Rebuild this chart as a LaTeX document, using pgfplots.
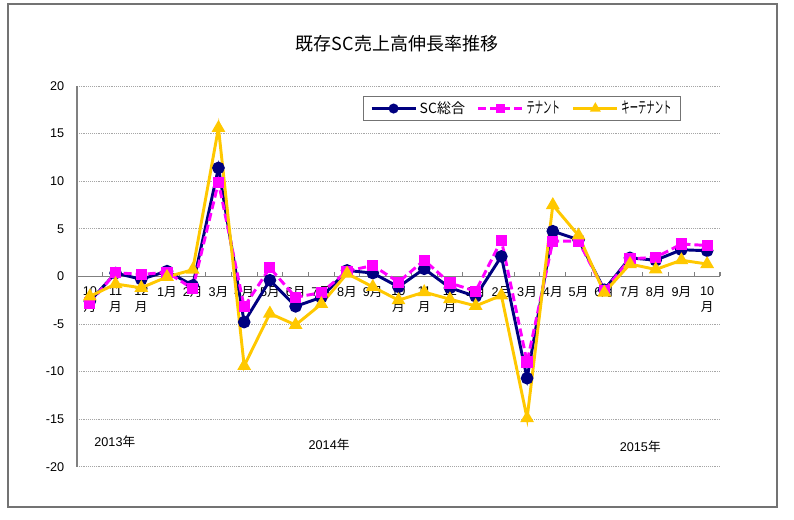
\documentclass[border=0pt]{standalone}
\usepackage{fontspec}
\setmainfont{Liberation Sans}
\newfontfamily\jp{Noto Sans CJK JP}
\newfontfamily\jpnarrow[FakeStretch=0.52]{Noto Sans CJK JP}
\usepackage{pgfplots}
\usepackage{pgfplotstable}
\pgfplotsset{compat=1.18}

\definecolor{scnavy}{HTML}{000080}
\definecolor{tenmag}{HTML}{FF00FF}
\definecolor{keygold}{HTML}{FFC800}
\definecolor{axgray}{HTML}{808080}

\newcommand{\tk}{{\jp 月}}
\newcommand{\nen}{{\jp 年}}
\newcommand{\kana}[1]{{\jpnarrow\fontsize{12}{12.5}\selectfont #1}}

% month index, SC total, tenants, key tenants (Oct 2013 - Oct 2015)
\pgfplotstableread{
i   sc     ten    key
0   -2.6   -2.8   -2.1
1   0.35   0.4    -0.8
2   -0.3   0.2    -1.2
3   0.55   0.45   -0.05
4   -0.95  -1.3   0.7
5   11.4   9.9    15.6
6   -4.8   -3.2   -9.4
7   -0.4   0.9    -3.9
8   -3.15  -2.2   -5.1
9   -2.2   -1.7   -2.9
10  0.63   0.55   0.3
11  0.35   1.15   -1.1
12  -1.1   -0.6   -2.5
13  0.8    1.7    -1.65
14  -1.2   -0.7   -2.4
15  -2.1   -1.55  -3.1
16  2.1    3.8    -2.0
17  -10.7  -9.0   -14.9
18  4.75   3.7    7.5
19  3.85   3.7    4.3
20  -1.4   -1.5   -1.7
21  1.95   1.85   1.3
22  1.7    2.0    0.73
23  2.8    3.4    1.7
24  2.7    3.25   1.3
}\growth

\begin{document}
\begin{tikzpicture}[x=0.75pt,y=0.75pt]
  \path[use as bounding box] (0,0) rectangle (794,519);
  \draw[axgray!90!black, line width=0.8pt] (8,12) rectangle (777,515);
  \node[font=\jp\fontsize{13.5}{15}\selectfont] at (397,475) {既存SC売上高伸長率推移};

  \begin{axis}[
      at={(57.75pt,39.2pt)}, anchor=south west,
      scale only axis, width=482.25pt, height=285.5pt,
      xmin=-0.5, xmax=24.5, ymin=-20, ymax=20,
      axis x line*=middle, axis y line*=left,
      x axis line style={axgray, line width=0.8pt},
      y axis line style={axgray, line width=0.8pt},
      ytick={-20,-15,...,20},
      xtick={0,...,24},
      xticklabels={{10\\\tk},{11\\\tk},{12\\\tk},1\tk,2\tk,3\tk,4\tk,5\tk,6\tk,7\tk,8\tk,9\tk,
                   {10\\\tk},{11\\\tk},{12\\\tk},1\tk,2\tk,3\tk,4\tk,5\tk,6\tk,7\tk,8\tk,9\tk,{10\\\tk}},
      minor xtick={-0.5,0.5,...,24.5},
      major x tick style={draw=none},
      minor x tick style={axgray, line width=0.8pt},
      xtick align=inside,
      minor tick length=3pt,
      ytick style={draw=none},
      ymajorgrids,
      major grid style={densely dotted, gray!70, line width=0.6pt},
      tick label style={font=\fontsize{9.5}{12.4}\selectfont},
      xticklabel style={align=center, yshift=-4pt},
      yticklabel style={xshift=-6pt},
      /pgf/number format/assume math mode=true,
      legend columns=3,
      legend style={at={(0.4448,0.9737)}, anchor=north west,
        draw=axgray!90!black, line width=0.7pt,
        font=\jp\fontsize{10.5}{12.5}\selectfont,
        inner xsep=5pt, inner ysep=1.5pt,
        /tikz/every even column/.append style={column sep=7pt}},
      legend image code/.code={%
        \draw[mark repeat=2,mark phase=2, mark size=2.6pt] plot coordinates {(0pt,0pt)(16.5pt,0pt)(33pt,0pt)};},
    ]
    \addplot[scnavy, line width=2.2pt, mark=*, mark size=3.6pt,
      mark options={solid, fill=scnavy}] table[x=i, y=sc] {\growth};
    \addlegendentry{SC総合}
    \addplot[tenmag, line width=2.2pt, dash pattern=on 6pt off 3pt, mark=square*, mark size=3.1pt,
      mark options={solid, fill=tenmag}] table[x=i, y=ten] {\growth};
    \addlegendentry{\kana{テナント}}
    \addplot[keygold, line width=2.2pt, mark=triangle*, mark size=3.8pt,
      mark options={solid, fill=keygold}] table[x=i, y=key] {\growth};
    \addlegendentry{\kana{キーテナント}}

    \node[font=\fontsize{9.5}{11}\selectfont] at (axis cs:0.97,-17.4) {2013\nen};
    \node[font=\fontsize{9.5}{11}\selectfont] at (axis cs:9.3,-17.7) {2014\nen};
    \node[font=\fontsize{9.5}{11}\selectfont] at (axis cs:21.4,-17.9) {2015\nen};
  \end{axis}
\end{tikzpicture}
\end{document}
